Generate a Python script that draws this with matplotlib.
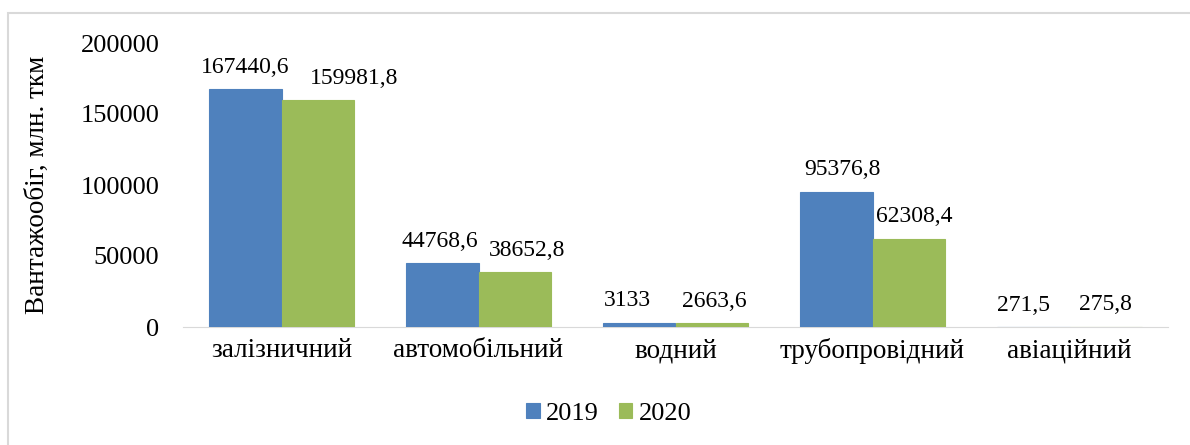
import numpy as np
import matplotlib.pyplot as plt
from matplotlib.patches import Rectangle

categories = ["залізничний", "автомобільний", "водний", "трубопровідний", "авіаційний"]
v2019 = [167440.6, 44768.6, 3133, 95376.8, 271.5]
v2020 = [159981.8, 38652.8, 2663.6, 62308.4, 275.8]
labels2019 = ["167440,6", "44768,6", "3133", "95376,8", "271,5"]
labels2020 = ["159981,8", "38652,8", "2663,6", "62308,4", "275,8"]

# label nudges (points), as placed by hand in the original
nudge2019 = [0, -2, -9, 4, -7]
nudge2020 = [26, 9, 2, 4, 0]

plt.rcParams['font.family'] = ['Liberation Serif', 'DejaVu Serif']

fig = plt.figure(figsize=(11.9, 4.45), dpi=100)
ax = fig.add_axes([183/1190, 1 - 327/445, (1168-183)/1190, (327-43)/445])

x = np.arange(len(categories))
w = 0.366
b1 = ax.bar(x - w/2, v2019, w, color="#4F81BD", edgecolor="#4F81BD", linewidth=0.8, label="2019")
b2 = ax.bar(x + w/2, v2020, w, color="#9BBB59", edgecolor="#9BBB59", linewidth=0.8, label="2020")

for rect, lab, dx in zip(b1, labels2019, nudge2019):
	ax.annotate(lab, (rect.get_x() + rect.get_width()/2, rect.get_height()),
		xytext=(dx, 8), textcoords="offset points", ha="center", va="bottom", fontsize=17)
for rect, lab, dx in zip(b2, labels2020, nudge2020):
	ax.annotate(lab, (rect.get_x() + rect.get_width()/2, rect.get_height()),
		xytext=(dx, 8), textcoords="offset points", ha="center", va="bottom", fontsize=17)

ax.set_xlim(-0.5, len(categories) - 0.5)
ax.set_ylim(0, 200000)
ax.set_yticks([0, 50000, 100000, 150000, 200000])
ax.set_xticks(x)
ax.set_xticklabels(categories, fontsize=19.5)
ax.tick_params(axis="y", labelsize=19, length=0, pad=17)
ax.tick_params(axis="x", length=0, pad=8)
for s in ["top", "right", "left"]:
	ax.spines[s].set_visible(False)
ax.spines["bottom"].set_color("#D9D9D9")
ax.spines["bottom"].set_zorder(0)
ax.set_ylabel("Вантажообіг, млн. ткм", fontsize=19.5, labelpad=22)

fig.legend(handles=[b1, b2], loc="center", bbox_to_anchor=(609/1190, 1 - 414/445), ncol=2,
	frameon=False, fontsize=19, handlelength=0.5, handleheight=0.5, columnspacing=0.76,
	handletextpad=0.25, borderpad=0)

# frame around the chart area
fig.patches.append(Rectangle((8/1190, -0.1), 1.2, 1 - 13/445 + 0.1, transform=fig.transFigure,
	fill=False, edgecolor="#D9D9D9", linewidth=1.5))

fig.savefig("out.png", dpi=100)
